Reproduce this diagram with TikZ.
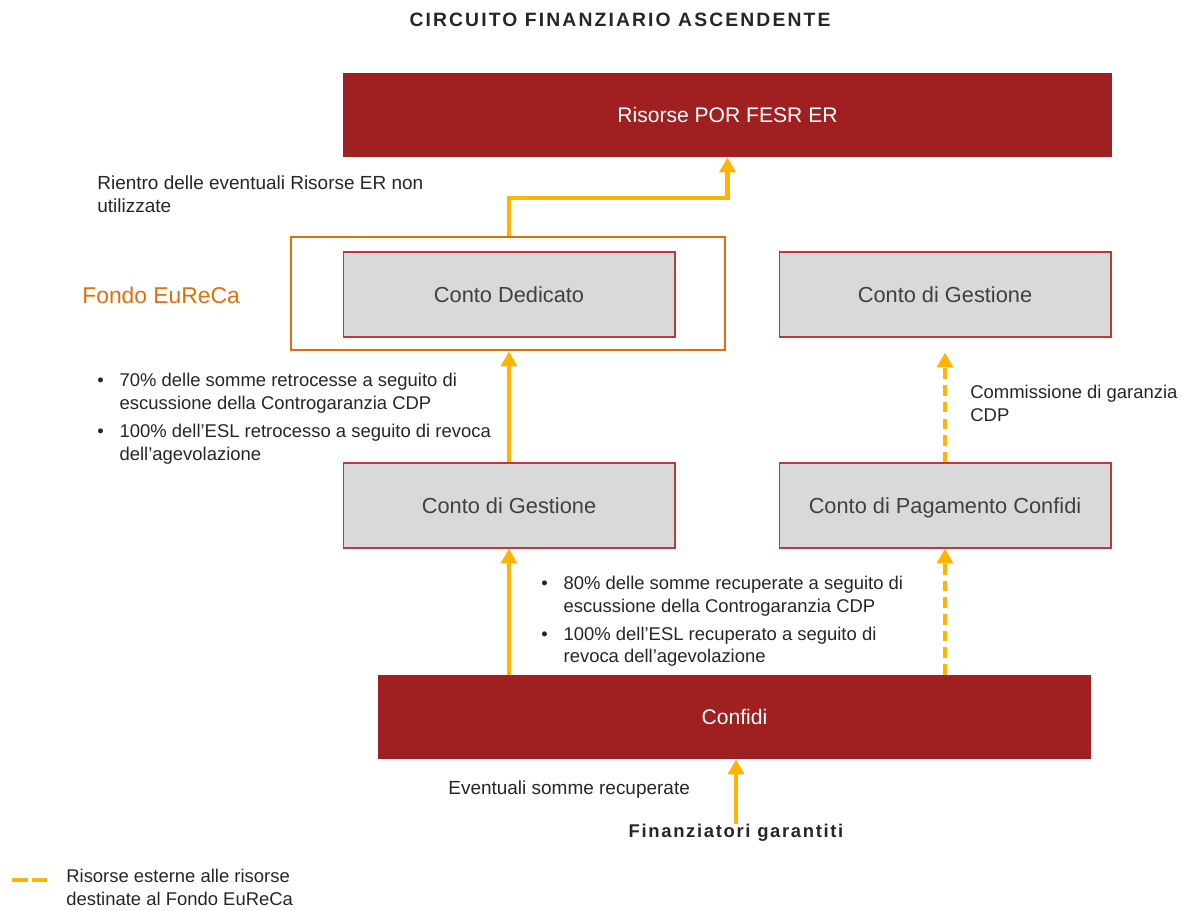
\documentclass[tikz,border=0pt]{standalone}
\usepackage{fontspec}
\setmainfont{Liberation Sans}
\usetikzlibrary{positioning,arrows.meta}

\definecolor{darkred}{RGB}{160,31,32}
\definecolor{boxgray}{RGB}{217,217,217}
\definecolor{boxline}{RGB}{192,57,57}
\definecolor{fondoorange}{RGB}{228,108,10}
\definecolor{flowyellow}{RGB}{255,180,0}
\definecolor{textgray}{RGB}{64,64,64}
\definecolor{textdark}{RGB}{38,38,38}

\tikzset{
	redbox/.style = {fill=darkred, draw=none, text=white, align=center, font=\fontsize{12}{14}\selectfont, minimum height=1.68cm},
	contobox/.style = {fill=boxgray, draw=boxline, line width=0.6pt, text=textgray, align=center, font=\fontsize{12.4}{14}\selectfont, text height=11pt, text depth=2.2pt, minimum width=6.64cm, minimum height=1.7cm},
	flow/.style = {draw=flowyellow, line width=2.3pt, -{Triangle[width=9pt,length=8.5pt]}},
	extflow/.style = {flow, dash pattern=on 6pt off 3.5pt},
	note/.style = {inner sep=0pt, align=left, text=textdark, font=\fontsize{10.5}{13}\selectfont},
}

\begin{document}
\begin{tikzpicture}[x=0.02cm, y=-0.02cm]
	\useasboundingbox (0,0) rectangle (1192,910);

	\node [inner sep=0pt, text=textdark, font=\fontsize{11}{13}\selectfont\bfseries\addfontfeature{LetterSpace=11}] (title) at (620,20) {CIRCUITO FINANZIARIO ASCENDENTE};

	% boxes
	\node [redbox, minimum width=15.38cm] (por) at (727.5,115) {Risorse POR FESR ER};
	\node [draw=fondoorange, line width=1.6pt, minimum width=8.68cm, minimum height=2.26cm] (fondo) at (508,293.5) {};
	\node [contobox] (dedicato) at (509,294.5) {Conto Dedicato};
	\node [contobox] (gestioneR) at (945,294.5) {Conto di Gestione};
	\node [contobox] (gestioneL) at (509,505.5) {Conto di Gestione};
	\node [contobox] (pagamento) at (945,505.5) {Conto di Pagamento Confidi};
	\node [redbox, minimum width=14.26cm] (confidi) at (734.5,717) {Confidi};
	\node [inner sep=0pt, text=textdark, font=\fontsize{10.5}{13}\selectfont\bfseries\addfontfeature{LetterSpace=9}] (finanz) at (736,833) {Finanziatori garantiti};

	% labels
	\node [note, text=fondoorange, font=\fontsize{13}{15}\selectfont, anchor=west] (fondol) at (82,295) {Fondo EuReCa};
	\node [note, font=\fontsize{10.8}{13}\selectfont, anchor=west] (rientro) at (97,194.5) {Rientro delle eventuali Risorse ER non\\utilizzate};
	\node [note, anchor=west] (retro) at (97,419) {\begin{tabular}{@{}l@{\hspace{9pt}}l@{}}
		\textbullet & 70\% delle somme retrocesse a seguito di\\
		& escussione della Controgaranzia CDP\\[3pt]
		\textbullet & 100\% dell’ESL retrocesso a seguito di revoca\\
		& dell’agevolazione
	\end{tabular}};
	\node [note, anchor=west] (recup) at (541,621.5) {\begin{tabular}{@{}l@{\hspace{9pt}}l@{}}
		\textbullet & 80\% delle somme recuperate a seguito di\\
		& escussione della Controgaranzia CDP\\[3pt]
		\textbullet & 100\% dell’ESL recuperato a seguito di\\
		& revoca dell’agevolazione
	\end{tabular}};
	\node [note, anchor=west] (commiss) at (970,403) {Commissione di garanzia\\CDP};
	\node [note, font=\fontsize{10.8}{13}\selectfont, anchor=west] (eventuali) at (448,790) {Eventuali somme recuperate};
	\node [note, anchor=west] (legtext) at (66,887.5) {Risorse esterne alle risorse\\destinate al Fondo EuReCa};

	% flows
	\coordinate (bend) at (727.5,198);
	\draw [flow] (dedicato.north |- fondo.north) |- (bend) -- (por.south);
	\draw [flow] (gestioneL.north) -- (gestioneL.north |- fondo.south);
	\draw [flow] (confidi.north -| gestioneL.south) -- (gestioneL.south);
	\draw [extflow] (confidi.north -| pagamento.south) -- (pagamento.south);
	\draw [extflow, shorten >=0.3cm] (pagamento.north) -- (gestioneR.south);
	\draw [flow] (finanz.north) -- (finanz.north |- confidi.south);

	% legend
	\coordinate (legA) at (12,880);
	\coordinate (legB) at (47,880);
	\draw [draw=flowyellow, line width=2.3pt, dash pattern=on 9pt off 2.5pt] (legA) -- (legB);
\end{tikzpicture}
\end{document}
